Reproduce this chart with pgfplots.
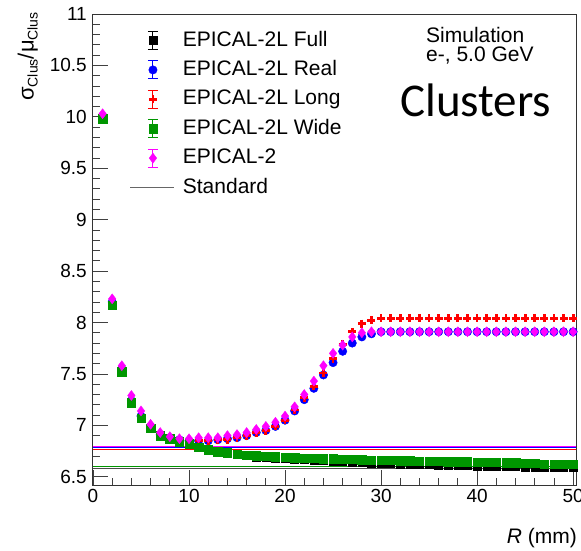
\documentclass[border=0pt]{standalone}
\usepackage{pgfplots}
\pgfplotsset{compat=1.18}
\usepackage{pgfplotstable}
\usepackage{fontspec}
\setmainfont{Liberation Sans}
\newfontfamily\carlito{Carlito}
\definecolor{rgreen}{RGB}{0,150,0}
\definecolor{rmag}{RGB}{255,0,255}
\pgfplotstableread{
x full real long wide ep
1 9.98 10.00 10.00 9.98 10.03
2 8.17 8.20 8.20 8.17 8.23
3 7.52 7.55 7.54 7.52 7.58
4 7.22 7.24 7.23 7.22 7.29
5 7.07 7.09 7.08 7.07 7.14
6 6.97 6.99 6.98 6.97 7.01
7 6.90 6.91 6.91 6.90 6.93
8 6.87 6.88 6.88 6.87 6.89
9 6.84 6.86 6.85 6.84 6.87
10 6.815 6.85 6.85 6.82 6.87
11 6.785 6.85 6.85 6.79 6.88
12 6.755 6.85 6.85 6.765 6.88
13 6.74 6.86 6.86 6.745 6.88
14 6.725 6.87 6.86 6.735 6.90
15 6.715 6.88 6.88 6.72 6.91
16 6.705 6.90 6.90 6.71 6.93
17 6.695 6.93 6.93 6.705 6.96
18 6.69 6.95 6.95 6.70 6.99
19 6.685 6.99 6.99 6.695 7.03
20 6.68 7.05 7.05 6.69 7.09
21 6.675 7.14 7.15 6.685 7.18
22 6.67 7.25 7.27 6.68 7.30
23 6.665 7.36 7.38 6.68 7.43
24 6.66 7.49 7.51 6.675 7.58
25 6.655 7.61 7.65 6.675 7.70
26 6.65 7.72 7.79 6.67 7.78
27 6.645 7.80 7.91 6.67 7.86
28 6.64 7.86 7.99 6.665 7.90
29 6.635 7.89 8.02 6.66 7.91
30 6.63 7.91 8.04 6.66 7.91
31 6.63 7.91 8.04 6.66 7.91
32 6.625 7.91 8.04 6.655 7.91
33 6.625 7.91 8.04 6.655 7.91
34 6.62 7.91 8.04 6.65 7.91
35 6.62 7.91 8.04 6.65 7.91
36 6.615 7.91 8.04 6.65 7.91
37 6.615 7.91 8.04 6.645 7.91
38 6.61 7.91 8.04 6.645 7.91
39 6.61 7.91 8.04 6.645 7.91
40 6.605 7.91 8.04 6.64 7.91
41 6.605 7.91 8.04 6.64 7.91
42 6.60 7.91 8.04 6.64 7.91
43 6.60 7.91 8.04 6.635 7.91
44 6.60 7.91 8.04 6.635 7.91
45 6.595 7.91 8.04 6.63 7.91
46 6.595 7.91 8.04 6.63 7.91
47 6.595 7.91 8.04 6.625 7.91
48 6.59 7.91 8.04 6.625 7.91
49 6.59 7.91 8.04 6.62 7.91
50 6.59 7.91 8.04 6.62 7.91
}\data
\pgfplotsset{errleg/.style={legend image code/.code={
  \draw[##1, mark=none, solid, line width=0.9pt] (22.5pt,-9pt) -- (22.5pt,9pt);
  \draw[##1, mark=none, solid, line width=0.9pt] (17.5pt,-9pt) -- (27.5pt,-9pt);
  \draw[##1, mark=none, solid, line width=0.9pt] (17.5pt,9pt) -- (27.5pt,9pt);
  \draw[##1] plot coordinates {(22.5pt,0pt)};
}},
stdleg/.style={legend image code/.code={\draw[##1] (0pt,0pt) -- (44pt,0pt);}}}
\begin{document}
\begin{tikzpicture}
\path[use as bounding box] (0pt,0pt) rectangle (581pt,550pt);
\begin{axis}[
  at={(93pt,65pt)}, anchor=south west,
  scale only axis, width=483pt, height=471pt,
  xmin=0, xmax=50.3, ymin=6.42, ymax=11,
  xtick={0,10,20,30,40,50},
  ytick={6.5,7,7.5,8,8.5,9,9.5,10,10.5,11},
  minor x tick num=4, minor y tick num=4,
  tick align=inside, xtick pos=left, ytick pos=left,
  major tick length=15pt, minor tick length=7.5pt,
  every tick/.style={black!75, line width=0.8pt},
  axis line style={black!80, line width=1pt},
  tick label style={font=\fontsize{19}{19}\selectfont},
  /pgf/number format/assume math mode=true,
  /pgf/number format/fixed,
  xticklabel style={inner sep=0pt, yshift=-4pt},
  yticklabel style={inner sep=0pt, xshift=-6pt},
  xlabel={\textit{R} (mm)},
  xlabel style={at={(axis description cs:1,0)}, anchor=base east, inner sep=0pt, yshift=-58pt, xshift=1pt, font=\fontsize{21}{21}\selectfont},
  ylabel={σ\raisebox{-4pt}{\fontsize{14}{14}\selectfont Clus}/μ\raisebox{-4pt}{\fontsize{14}{14}\selectfont Clus}},
  ylabel style={at={(axis description cs:-0.135,1.004)}, anchor=east, inner sep=0pt, font=\fontsize{22}{22}\selectfont},
  legend style={at={(axis description cs:0.0766,0.966)}, anchor=north west, draw=none, fill=none,
    inner sep=0pt, outer sep=0pt, row sep=8.4pt, column sep=8pt,
    font=\fontsize{21}{21}\selectfont,
    nodes={inner sep=0pt, text height=16pt, text depth=5pt}},
  legend cell align=left,
]
\addplot[forget plot, red, line width=0.9pt] coordinates {(0,6.767) (50.3,6.767)};
\addplot[forget plot, blue, line width=0.9pt] coordinates {(0,6.782) (50.3,6.782)};
\addplot[forget plot, rmag, line width=0.9pt] coordinates {(0,6.799) (50.3,6.799)};
\addplot[forget plot, rgreen, line width=0.9pt] coordinates {(0,6.603) (50.3,6.603)};
\addplot[forget plot, black!70, line width=1.1pt] coordinates {(0,6.580) (50.3,6.580)};

\addplot[only marks, black, mark=square*, mark size=4pt, errleg] table[x=x, y=full] {\data};
\addlegendentry{EPICAL-2L Full}
\addplot[only marks, blue, mark=*, mark size=4.2pt, errleg] table[x=x, y=real] {\data};
\addlegendentry{EPICAL-2L Real}
\addplot[only marks, red, mark=+, mark size=4pt, mark options={line width=2.8pt}, errleg] table[x=x, y=long] {\data};
\addlegendentry{EPICAL-2L Long}
\addplot[only marks, rgreen, mark=square*, mark size=4.2pt, mark options={rounded corners=1.5pt}, errleg] table[x=x, y=wide] {\data};
\addlegendentry{EPICAL-2L Wide}
\addplot[only marks, rmag, mark=diamond*, mark size=5pt, errleg] table[x=x, y=ep] {\data};
\addlegendentry{EPICAL-2}
\addlegendimage{stdleg, black!60, line width=0.9pt}
\addlegendentry{Standard}
\end{axis}
\node[anchor=base west, inner sep=0pt, font=\fontsize{21}{21}\selectfont] at (426pt,507pt) {Simulation};
\node[anchor=base west, inner sep=0pt, font=\fontsize{21}{21}\selectfont] at (426pt,488pt) {e-, 5.0 GeV};
\node[anchor=base west, inner sep=0pt, font=\carlito\fontsize{47}{47}\selectfont] at (400pt,433pt) {Clusters};
\end{tikzpicture}
\end{document}
